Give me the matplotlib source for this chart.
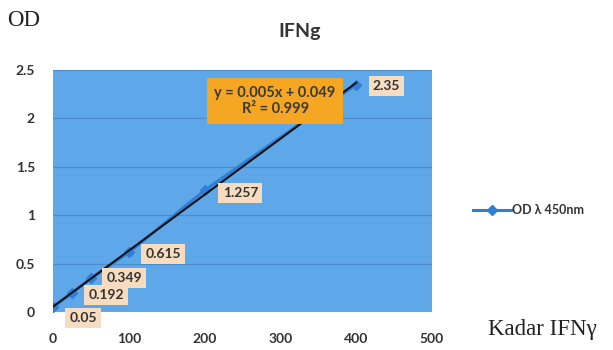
import numpy as np
import matplotlib
matplotlib.use("Agg")
import matplotlib.pyplot as plt

conc = [0, 25, 50, 100, 200, 400]
od = [0.05, 0.192, 0.349, 0.615, 1.257, 2.35]
labels = ["0.05", "0.192", "0.349", "0.615", "1.257", "2.35"]
xticks = [0, 100, 200, 300, 400, 500]
yticks = [0, 0.5, 1, 1.5, 2, 2.5]
ytick_labels = ["0", "0.5", "1", "1.5", "2", "2.5"]

fig = plt.figure(figsize=(6.13, 3.5), dpi=100)
fig.patch.set_facecolor("white")
ax = fig.add_axes([53/613, 1 - 312/350, (432-53)/613, (312-70)/350])
ax.set_facecolor("#5ea8ea")
ax.set_xlim(0, 500)
ax.set_ylim(0, 2.5)
ax.set_xticks(xticks)
ax.set_yticks(yticks)
ax.set_yticklabels(ytick_labels)
for yv in yticks[1:]:
    ax.axhline(yv, color="#4a8ccc", lw=0.9, zorder=1)
for s in ax.spines.values():
    s.set_visible(False)
ax.tick_params(axis="both", length=0, labelsize=10, colors="#333333")
for t in ax.get_xticklabels() + ax.get_yticklabels():
    t.set_fontfamily("Lato")
    t.set_fontweight("bold")
ax.tick_params(axis="x", pad=15)
ax.tick_params(axis="y", pad=13)

ax.plot(conc, od, color="#2f7fd6", lw=2.2, marker="D", ms=5, zorder=3,
        label="OD λ 450nm")
coef = np.polyfit(conc, od, 1)
xs = np.array([min(conc), max(conc)])
ax.plot(xs, np.polyval(coef, xs), color="#111111", lw=1.5, zorder=4)

offsets = [(12, -8), (12, -1), (11, 0), (12, -1), (13, -2), (12, -1)]
for x, y, lab, off in zip(conc, od, labels, offsets):
    ax.annotate(lab, (x, y), xytext=off, textcoords="offset points",
                fontsize=10, fontfamily="Lato", fontweight="bold", color="#333333",
                va="center", ha="left", zorder=5,
                bbox=dict(boxstyle="square,pad=0.3", fc="#f8dcc0", ec="none"))

ax.text(293, 2.18, "y = 0.005x + 0.049\nR² = 0.999", ha="center", va="center",
        fontsize=10.5, fontfamily="Lato", fontweight="bold", color="#3a3a3a",
        linespacing=1.25, zorder=6,
        bbox=dict(boxstyle="square,pad=0.5", fc="#f5a623", ec="none"))

leg = fig.legend(loc="center left", bbox_to_anchor=(462/613, 1 - 210/350),
                 frameon=False, prop={"family": "Lato", "weight": "bold", "size": 9},
                 handlelength=3.0, handletextpad=0.1)
for t in leg.get_texts():
    t.set_color("#333333")

fig.text(300/613, 1 - 32/350, "IFNg", ha="center", va="center", fontsize=14,
         fontfamily="Lato", fontweight="bold", color="#333333")
fig.text(7/613, 1 - 20/350, "OD", ha="left", va="center", fontsize=16.5,
         fontfamily="Liberation Serif", color="#222222")
fig.text(488/613, 1 - 330/350, "Kadar IFNγ", ha="left", va="center", fontsize=16.5,
         fontfamily="Liberation Serif", color="#222222")

fig.savefig("out.png", dpi=100)
